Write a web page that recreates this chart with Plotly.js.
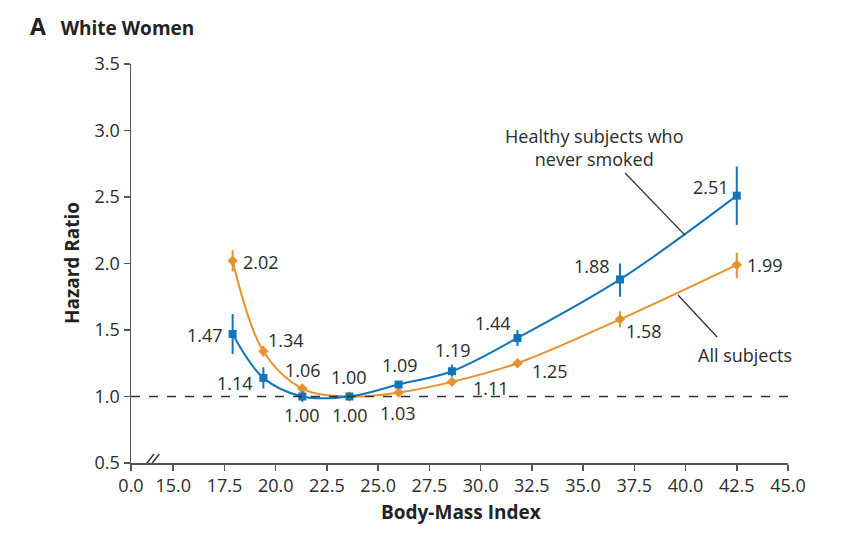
<!DOCTYPE html>
<html>
<head>
<meta charset="utf-8">
<script src="https://cdn.plot.ly/plotly-3.0.1.min.js"></script>
<style>html,body{margin:0;padding:0;background:#fff;}#chart{width:853px;height:545px;}</style>
</head>
<body>
<div id="chart"></div>
<script>
// ---- Data ----
var bmi = [17.9, 19.4, 21.3, 23.6, 26.0, 28.6, 31.8, 36.8, 42.5];
var healthyHR = [1.47, 1.14, 1.00, 1.00, 1.09, 1.19, 1.44, 1.88, 2.51];
var healthyUpper = [1.62, 1.22, 1.04, 1.00, 1.11, 1.24, 1.50, 2.00, 2.73];
var healthyLower = [1.32, 1.06, 0.96, 1.00, 1.07, 1.15, 1.38, 1.75, 2.29];
var allHR = [2.02, 1.34, 1.06, 1.00, 1.03, 1.11, 1.25, 1.58, 1.99];
var allUpper = [2.10, 1.38, 1.08, 1.00, 1.04, 1.13, 1.27, 1.64, 2.08];
var allLower = [1.94, 1.30, 1.04, 1.00, 1.02, 1.09, 1.23, 1.52, 1.89];
var xTickVals = [12.94, 15, 17.5, 20, 22.5, 25, 27.5, 30, 32.5, 35, 37.5, 40, 42.5, 45];
var xTickText = ["0.0", "15.0", "17.5", "20.0", "22.5", "25.0", "27.5", "30.0", "32.5", "35.0", "37.5", "40.0", "42.5", "45.0"];
var yTickVals = [0.5, 1.0, 1.5, 2.0, 2.5, 3.0, 3.5];
var yTickText = ["0.5", "1.0", "1.5", "2.0", "2.5", "3.0", "3.5"];
var referenceHR = 1.0;

// ---- Styles / label placement (pixel offsets) ----
var BLUE = "#0f76bd", ORANGE = "#e8902c", TXT = "#2b2b2b", AX = "#555555";
var FONT = "Open Sans, DejaVu Sans, sans-serif";
var healthyOff = [[-28, -1], [-28, -5], [0, -18], [1, -18], [1, 20], [1, 21], [-24, 15], [-28, 13], [-26, 9]];
var allOff = [[28, -1], [23, 11], [1, 19], [0, 20], [-1, -20], [39, -6], [33, -8], [24, -12], [28, 0]];

function diff(a, b) { return a.map(function (v, i) { return Math.max(0, +(v - b[i]).toFixed(3)); }); }

var traces = [
  {
    x: bmi, y: allHR, mode: "lines+markers", type: "scatter",
    line: {color: ORANGE, width: 2, shape: "spline", smoothing: 1},
    marker: {symbol: "diamond", size: 8, color: ORANGE},
    error_y: {type: "data", symmetric: false, array: diff(allUpper, allHR), arrayminus: diff(allHR, allLower),
      color: ORANGE, thickness: 2, width: 0},
    hoverinfo: "skip"
  },
  {
    x: bmi, y: healthyHR, mode: "lines+markers", type: "scatter",
    line: {color: BLUE, width: 2, shape: "spline", smoothing: 1},
    marker: {symbol: "square", size: 8, color: BLUE},
    error_y: {type: "data", symmetric: false, array: diff(healthyUpper, healthyHR), arrayminus: diff(healthyHR, healthyLower),
      color: BLUE, thickness: 2, width: 0},
    hoverinfo: "skip"
  }
];

var annotations = [];
function addLabels(ys, offs) {
  ys.forEach(function (v, i) {
    annotations.push({x: bmi[i], y: v, xref: "x", yref: "y", text: v.toFixed(2), showarrow: false,
      xshift: offs[i][0], yshift: offs[i][1], font: {family: FONT, size: 18, color: TXT}});
  });
}
addLabels(healthyHR, healthyOff);
addLabels(allHR, allOff);

annotations.push({x: 35.54, y: 2.873, xref: "x", yref: "y", text: "Healthy subjects who<br>never smoked",
  showarrow: false, align: "center", font: {family: FONT, size: 18, color: TXT}});
annotations.push({x: 42.9, y: 1.311, xref: "x", yref: "y", text: "All subjects",
  showarrow: false, font: {family: FONT, size: 18, color: TXT}});
annotations.push({x: -0.1126, y: 0.501, xref: "paper", yref: "paper", text: "<b>Hazard Ratio</b>", textangle: -90,
  showarrow: false, font: {family: FONT, size: 19, color: "#222"}});
annotations.push({x: 0.502, y: -0.161, xref: "paper", yref: "paper", text: "<b>Body-Mass Index</b>",
  showarrow: false, font: {family: FONT, size: 19, color: "#222"}});

var shapes = [
  {type: "line", xref: "paper", yref: "y", x0: 0, x1: 1, y0: referenceHR, y1: referenceHR,
    line: {color: "#333", width: 1.5, dash: "dash"}},
  {type: "line", xref: "x", yref: "y", x0: 37.05, y0: 2.68, x1: 39.97, y1: 2.213, line: {color: "#333", width: 1.3}},
  {type: "line", xref: "x", yref: "y", x0: 39.63, y0: 1.763, x1: 41.54, y1: 1.447, line: {color: "#333", width: 1.3}},
  // axis break marks
  {type: "line", xref: "x", yref: "y", xsizemode: "pixel", ysizemode: "pixel", xanchor: 13.72, yanchor: 0.5,
    x0: -7, x1: 7, y0: -9, y1: 9, line: {color: "#333", width: 1.5}},
  {type: "line", xref: "x", yref: "y", xsizemode: "pixel", ysizemode: "pixel", xanchor: 13.98, yanchor: 0.5,
    x0: -7, x1: 7, y0: -9, y1: 9, line: {color: "#333", width: 1.5}}
];

var layout = {
  width: 853, height: 545,
  margin: {l: 131, r: 65, t: 64, b: 82},
  paper_bgcolor: "#fff", plot_bgcolor: "#fff",
  showlegend: false,
  title: {text: "<span style='font-size:23px'>A</span>&nbsp;&nbsp; White Women", x: 30 / 853, xanchor: "left",
    xref: "container", y: 1 - 28 / 545, yanchor: "middle", yref: "container",
    font: {family: FONT, size: 19, color: "#222", weight: "bold"}},
  xaxis: {range: [12.94, 45], tickmode: "array", tickvals: xTickVals, ticktext: xTickText,
    showgrid: false, zeroline: false, showline: true, linecolor: AX, linewidth: 1.5,
    ticks: "outside", ticklen: 6, tickwidth: 1.5, tickcolor: AX,
    tickfont: {family: FONT, size: 18, color: TXT}, automargin: false},
  yaxis: {range: [0.5, 3.5], tickmode: "array", tickvals: yTickVals, ticktext: yTickText,
    showgrid: false, zeroline: false, showline: true, linecolor: AX, linewidth: 1.5,
    ticks: "outside", ticklen: 6, tickwidth: 1.5, tickcolor: AX,
    tickfont: {family: FONT, size: 18, color: TXT}, automargin: false},
  annotations: annotations,
  shapes: shapes
};

Plotly.newPlot("chart", traces, layout, {displayModeBar: false, staticPlot: true});
</script>
</body>
</html>
